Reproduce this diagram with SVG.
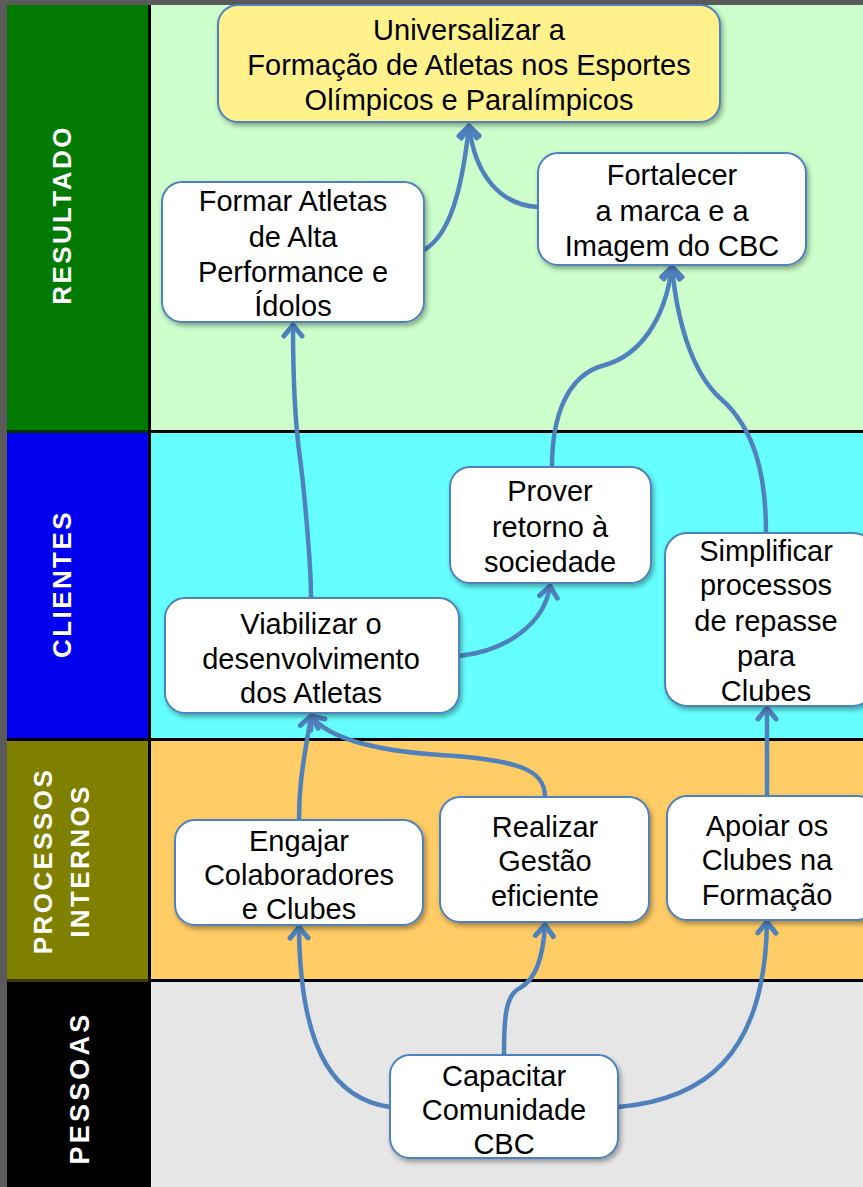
<svg xmlns="http://www.w3.org/2000/svg" width="863" height="1187" viewBox="0 0 863 1187">
<defs>
<filter id="sh" x="-10%" y="-10%" width="125%" height="130%">
<feDropShadow dx="2" dy="3" stdDeviation="2.5" flood-color="#000" flood-opacity="0.35"/>
</filter>
<marker id="ah" viewBox="-16 -12 20 24" markerWidth="20" markerHeight="24" refX="0" refY="0" orient="auto" markerUnits="userSpaceOnUse">
<path d="M-11,-9 L0,0 L-11,9" fill="none" stroke="#4f81bd" stroke-width="5" stroke-linecap="round" stroke-linejoin="round"/>
</marker>
</defs>
<style>
.node{fill:#fff;stroke:#4f81bd;stroke-width:2;filter:url(#sh)}
.t{font-family:"Liberation Sans",Arial,sans-serif;font-size:29px;fill:#000;text-anchor:middle}
.lab{font-family:"Liberation Sans",Arial,sans-serif;font-weight:bold;font-size:26px;fill:#fff;text-anchor:middle;letter-spacing:2.4px}
.c{fill:none;stroke:#4f81bd;stroke-width:4.5;stroke-linecap:round;marker-end:url(#ah)}
</style>
<!-- background bands -->
<rect x="0" y="0" width="863" height="1187" fill="#5a5a5a"/>
<rect x="7" y="5" width="141" height="426" fill="#007a00"/>
<rect x="151" y="5" width="712" height="426" fill="#ccffcc"/>
<rect x="7" y="433" width="141" height="306" fill="#0000ee"/>
<rect x="151" y="433" width="712" height="306" fill="#66ffff"/>
<rect x="7" y="741" width="141" height="239" fill="#808000"/>
<rect x="151" y="741" width="712" height="239" fill="#ffcc66"/>
<rect x="7" y="982" width="141" height="205" fill="#000"/>
<rect x="151" y="982" width="712" height="205" fill="#e6e6e6"/>
<rect x="148" y="5" width="3" height="1182" fill="#000"/>
<rect x="148" y="430" width="715" height="3" fill="#000"/>
<rect x="7" y="738" width="856" height="3" fill="#000"/>
<rect x="148" y="979" width="715" height="3" fill="#000"/>
<rect x="7" y="979" width="141" height="3" fill="#3a3a00"/>
<rect x="7" y="430" width="141" height="3" fill="#003300"/>
<!-- lane labels -->
<g id="lane-resultado"><text class="lab" transform="translate(62,215) rotate(-90)" y="9.3">RESULTADO</text></g>
<g id="lane-clientes"><text class="lab" transform="translate(62,584) rotate(-90)" y="9.3">CLIENTES</text></g>
<g id="lane-processos"><text class="lab" transform="translate(43,861) rotate(-90)" y="9.3">PROCESSOS</text><text class="lab" transform="translate(80,861) rotate(-90)" y="9.3">INTERNOS</text></g>
<g id="lane-pessoas"><text class="lab" style="font-size:27px;letter-spacing:3.2px" transform="translate(79,1088) rotate(-90)" y="9.7">PESSOAS</text></g>
<!-- connectors -->
<g id="connectors">
<path class="c" d="M424,250 C450,235 462,190 469,126"/>
<path class="c" d="M538,207 C500,205 475,175 469,126"/>
<path class="c" d="M311,597 C311,560 303,480 300,458 C296,430 293,380 293,325"/>
<path class="c" d="M459,656 C512,650 545,620 550,586"/>
<path class="c" d="M552,467 C552,420 565,375 605,365 C640,355 665,320 672,267"/>
<path class="c" d="M766,533 C766,480 757,430 720,398 C695,375 678,330 672,267"/>
<path class="c" d="M299,820 C299,780 304,760 311,716"/>
<path class="c" d="M545,797 C545,770 520,760 440,755 C380,751 330,740 311,716"/>
<path class="c" d="M767,796 L767,708"/>
<path class="c" d="M390,1107 C340,1100 300,1060 299,927"/>
<path class="c" d="M504,1055 C504,1020 505,995 520,988 C535,980 543,960 545,925"/>
<path class="c" d="M618,1107 C700,1100 765,1060 767,922"/>
</g>
<!-- nodes -->
<g id="n-universalizar"><rect x="218" y="5" width="502" height="117" rx="20" class="node" style="fill:#fff28c"/>
<text class="t" x="469" y="40">Universalizar a</text><text class="t" x="469" y="75">Formação de Atletas nos Esportes</text><text class="t" x="469" y="110">Olímpicos e Paralímpicos</text></g>
<g id="n-formar"><rect x="162" y="182" width="262" height="140" rx="20" class="node"/>
<text class="t" x="293" y="211">Formar Atletas</text><text class="t" x="293" y="247">de Alta</text><text class="t" x="293" y="282">Performance e</text><text class="t" x="293" y="316">Ídolos</text></g>
<g id="n-fortalecer"><rect x="538" y="153" width="268" height="112" rx="20" class="node"/>
<text class="t" x="672" y="185">Fortalecer</text><text class="t" x="672" y="221">a marca e a</text><text class="t" x="672" y="256">Imagem do CBC</text></g>
<g id="n-prover"><rect x="450" y="467" width="201" height="116" rx="20" class="node"/>
<text class="t" x="550" y="501">Prover</text><text class="t" x="550" y="537">retorno à</text><text class="t" x="550" y="572">sociedade</text></g>
<g id="n-viabilizar"><rect x="165" y="598" width="294" height="115" rx="20" class="node"/>
<text class="t" x="311" y="634">Viabilizar o</text><text class="t" x="311" y="669">desenvolvimento</text><text class="t" x="311" y="703">dos Atletas</text></g>
<g id="n-simplificar"><rect x="665" y="533" width="210" height="173" rx="22" class="node"/>
<text class="t" x="766" y="561">Simplificar</text><text class="t" x="766" y="595">processos</text><text class="t" x="766" y="631">de repasse</text><text class="t" x="766" y="666">para</text><text class="t" x="766" y="701">Clubes</text></g>
<g id="n-engajar"><rect x="175" y="820" width="248" height="105" rx="20" class="node"/>
<text class="t" x="299" y="851">Engajar</text><text class="t" x="299" y="885">Colaboradores</text><text class="t" x="299" y="919">e Clubes</text></g>
<g id="n-realizar"><rect x="440" y="797" width="209" height="125" rx="20" class="node"/>
<text class="t" x="545" y="837">Realizar</text><text class="t" x="545" y="871">Gestão</text><text class="t" x="545" y="906">eficiente</text></g>
<g id="n-apoiar"><rect x="667" y="796" width="210" height="124" rx="20" class="node"/>
<text class="t" x="767" y="836">Apoiar os</text><text class="t" x="767" y="870">Clubes na</text><text class="t" x="767" y="905">Formação</text></g>
<g id="n-capacitar"><rect x="390" y="1055" width="228" height="103" rx="20" class="node"/>
<text class="t" x="504" y="1086">Capacitar</text><text class="t" x="504" y="1120">Comunidade</text><text class="t" x="504" y="1154">CBC</text></g>
</svg>
